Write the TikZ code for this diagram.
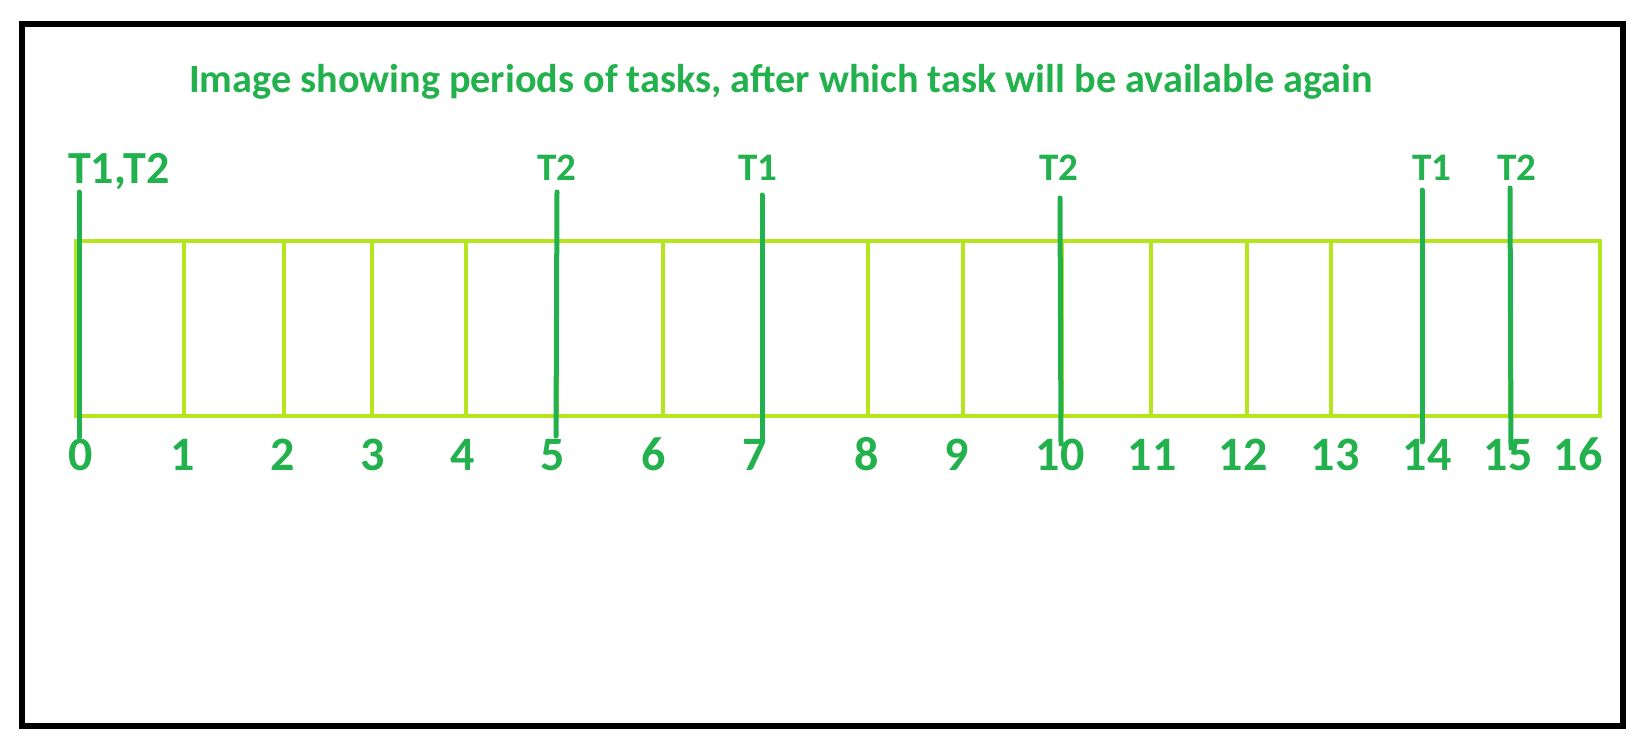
\documentclass[tikz,border=0pt]{standalone}
\usepackage{fontspec}
\setmainfont{Carlito}
\definecolor{lime}{HTML}{B5E61D}
\definecolor{pgreen}{HTML}{22B14C}
\begin{document}
\begin{tikzpicture}[x=1pt,y=-1pt,
  frame/.style={draw=black,line width=6pt},
  slotbox/.style={draw=lime,line width=4.5pt},
  tickline/.style={draw=lime,line width=4.5pt},
  taskline/.style={draw=pgreen,line width=5pt,line cap=round},
  numlbl/.style={text=pgreen,font=\bfseries\fontsize{48}{52}\selectfont,inner sep=0pt,anchor=base},
  tasklbl/.style={text=pgreen,font=\bfseries\fontsize{39}{44}\selectfont,inner sep=0pt,anchor=base},
  biglbl/.style={text=pgreen,font=\bfseries\fontsize{46}{50}\selectfont,inner sep=0pt,anchor=base west},
  titlelbl/.style={text=pgreen,font=\bfseries\fontsize{40.2}{46}\selectfont,inner sep=0pt,anchor=base west}]
\useasboundingbox[fill=white] (0,0) rectangle (1650,750);
\draw[frame] (22,24) rectangle (1623,726);
% title
\node[titlelbl] (title) at (189,92) {Image showing periods of tasks, after which task will be available again};
% slots box
\draw[slotbox] (76,241) rectangle (1600,416);
\foreach \x in {184,284,372,466,557,663,762,868,963,1062,1151,1247,1331,1422,1510}
  \draw[tickline] (\x,241) -- (\x,416);
% numbers
\foreach \n/\x in {0/81,1/183,2/283,3/373,4/463,5/553,6/654,7/755,8/867,9/957,10/1060,11/1152,12/1243,13/1335,14/1427,15/1508,16/1578}
  \node[numlbl] (n\n) at (\x,470) {\n};
% task labels
\node[biglbl] (l0) at (68,183) {T1,T2};
\node[tasklbl] (l5) at (557,180) {T2};
\node[tasklbl] (l7) at (758,180) {T1};
\node[tasklbl] (l10) at (1059,180) {T2};
\node[tasklbl] (l14) at (1432,180) {T1};
\node[tasklbl] (l15) at (1517,180) {T2};
% task lines
\coordinate (a0) at (79,192);   \coordinate (b0) at (79,437);
\coordinate (a5) at (557,192);  \coordinate (b5) at (556,436);
\coordinate (a7) at (762,195);  \coordinate (b7) at (762,440);
\coordinate (a10) at (1060,198); \coordinate (b10) at (1061,444);
\coordinate (a14) at (1422,190); \coordinate (b14) at (1422,442);
\coordinate (a15) at (1510,188); \coordinate (b15) at (1511,448);
\foreach \k in {0,5,7,10,14,15}
  \draw[taskline] (a\k) -- (b\k);
\end{tikzpicture}
\end{document}
